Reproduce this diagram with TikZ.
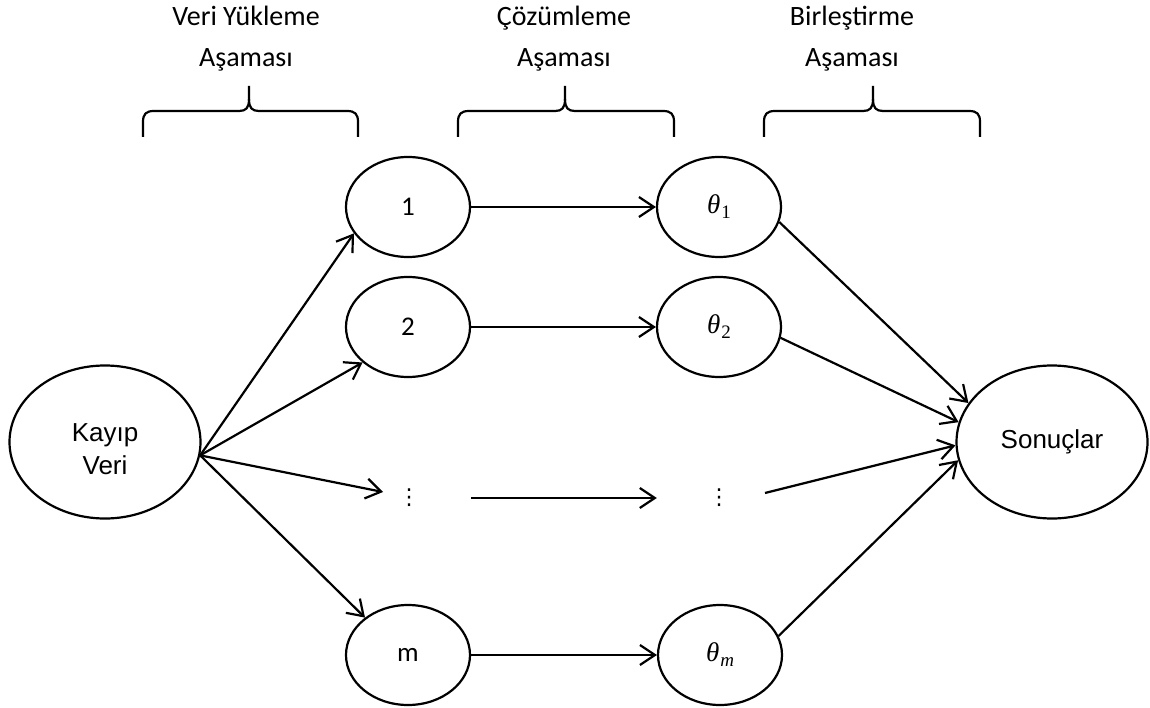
\documentclass[tikz,border=0pt]{standalone}
\usepackage{fontspec}
\setmainfont{Carlito}
\newfontfamily\arialfont{Liberation Sans}
\newfontfamily\symbolfont{Liberation Serif}
\newfontfamily\dotsfont{DejaVu Sans}
\usetikzlibrary{arrows.meta,shapes.geometric}

% estimate label: italic theta with a lowered index
\newcommand\estimate[1]{{\symbolfont\itshape θ}\kern1pt\raisebox{-5pt}{\symbolfont\fontsize{19}{20}\selectfont #1}}

\tikzset{
  stage/.style={ellipse, draw, line width=2.2pt, minimum width=124pt,
    minimum height=100pt, inner sep=0pt, font=\fontsize{27}{32}\selectfont},
  gap/.style={ellipse, minimum width=124pt, minimum height=100pt,
    inner sep=0pt, font=\dotsfont\fontsize{22}{24}\selectfont},
  endpoint/.style={ellipse, draw, line width=2.2pt, minimum width=191pt,
    minimum height=153pt, inner sep=0pt,
    font=\arialfont\fontsize{26}{33}\selectfont},
  flow/.style={-{Straight Barb[length=15pt,width=20pt]}, line width=2.2pt},
  phase/.style={align=center, anchor=base, font=\fontsize{28}{41}\selectfont},
  bracket/.style={line width=2.2pt, line join=round}
}

\begin{document}
\begin{tikzpicture}[x=1pt, y=-1pt]
\useasboundingbox (0,0) rectangle (1150,708);

% phase titles (anchored on the baseline of their second line)
\node[phase] (ph1) at (246,67) {Veri Yükleme\\Aşaması};
\node[phase] (ph2) at (564,67) {Çözümleme\\Aşaması};
\node[phase] (ph3) at (852,67) {Birleştirme\\Aşaması};

% curly brackets under the titles
\foreach \L/\M/\R in {143/249/358, 458/565/674, 764/873/980}{
  \draw[bracket] (\L,137) -- (\L,122) .. controls (\L,114) and (\L+3,111) .. (\L+11,111)
    -- (\M-10,111) .. controls (\M-3,111) and (\M,108) .. (\M,99) -- (\M,86);
  \draw[bracket] (\R,137) -- (\R,122) .. controls (\R,114) and (\R-3,111) .. (\R-11,111)
    -- (\M+10,111) .. controls (\M+3,111) and (\M,108) .. (\M,99);
}

% nodes
\node[endpoint] (kv) at (105,442)
  {\raisebox{-9pt}[\height][\depth]{\begin{tabular}{@{}c@{}}Kayıp\\Veri\end{tabular}}};
\node[endpoint] (son) at (1052,442) {Sonuçlar};

\node[stage] (n1) at (408,207) {1};
\node[stage] (n2) at (408,327) {2};
\node[gap]   (dl) at (409,498) {⋮};
\node[stage] (nm) at (408,655) {m};

\node[stage] (t1) at (719,207) {\estimate{1}};
\node[stage] (t2) at (719,327) {\estimate{2}};
\node[gap]   (dr) at (719,498) {⋮};
\node[stage] (tm) at (720,655) {\estimate{\itshape m}};

\coordinate (dlin) at (383,492);
\coordinate (drout) at (765,493);

% imputation
\draw[flow] (kv.-8) -- (n1.206);
\draw[flow] (kv.-8) -- (n2.218);
\draw[flow] (kv.-8) -- (dlin);
\draw[flow] (kv.-8) -- (nm.139);

% analysis
\draw[flow] (n1) -- (t1);
\draw[flow] (n2) -- (t2);
\draw[flow] (dl) -- (dr);
\draw[flow] (nm) -- (tm);

% pooling
\draw[flow] (t1.-14) -- (son.155);
\draw[flow] (t2.-10) -- (son.168);
\draw[flow] (drout) -- (son.182);
\draw[flow] (tm.18) -- (son.191);
\end{tikzpicture}
\end{document}
